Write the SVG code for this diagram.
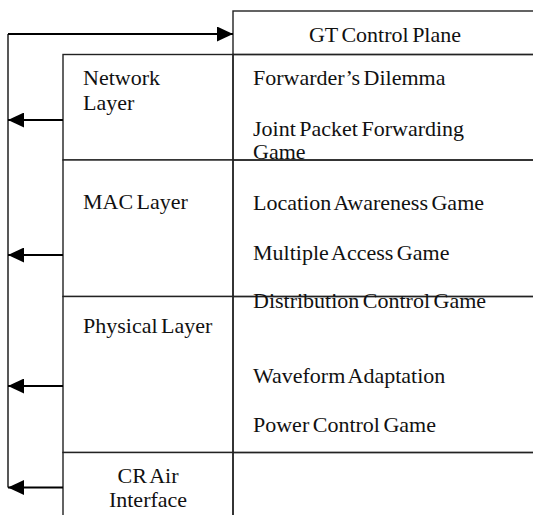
<svg xmlns="http://www.w3.org/2000/svg" width="533" height="515" viewBox="0 0 533 515">
<style>
.box{fill:#fff;stroke:#222;stroke-width:1.4}
.open{fill:none}
.t{font-family:"Liberation Serif","Times New Roman",serif;font-size:22px;word-spacing:-2px;fill:#111}
.c{text-anchor:middle}
.conn{fill:none;stroke:#000;stroke-width:2}
.wire{fill:none;stroke:#111;stroke-width:1.4}
</style>
<defs>
<marker id="ah" viewBox="0 0 16 15" refX="16" refY="7.5" markerWidth="16" markerHeight="15" markerUnits="userSpaceOnUse" orient="auto">
<path d="M0,0 L16,7.5 L0,15 Z" fill="#000"/>
</marker>
</defs>
<g id="gt-control-plane">
<rect class="box" x="233" y="11" width="320" height="43.5"/>
<text class="t c" x="385" y="42">GT Control Plane</text>
</g>
<g id="network-layer">
<rect class="box" x="63" y="54.5" width="170" height="105.5"/>
<text class="t" x="83" y="85">Network</text>
<text class="t" x="83" y="110">Layer</text>
</g>
<g id="network-games">
<rect class="box open" x="233" y="54.5" width="320" height="105.5"/>
<text class="t" x="253" y="85">Forwarder’s Dilemma</text>
<text class="t" x="253" y="136">Joint Packet Forwarding</text>
<text class="t" x="253" y="159">Game</text>
</g>
<g id="mac-layer">
<rect class="box" x="63" y="160" width="170" height="136.5"/>
<text class="t" x="83" y="209">MAC Layer</text>
</g>
<g id="mac-games">
<rect class="box open" x="233" y="160" width="320" height="136.5"/>
<text class="t" x="253" y="210">Location Awareness Game</text>
<text class="t" x="253" y="260">Multiple Access Game</text>
</g>
<g id="physical-layer">
<rect class="box" x="63" y="296.5" width="170" height="156"/>
<text class="t" x="83" y="333">Physical Layer</text>
</g>
<g id="physical-games">
<rect class="box open" x="233" y="296.5" width="320" height="156"/>
<text class="t" x="253" y="308">Distribution Control Game</text>
<text class="t" x="253" y="383">Waveform Adaptation</text>
<text class="t" x="253" y="432">Power Control Game</text>
</g>
<g id="cr-air-interface">
<rect class="box" x="63" y="452.5" width="170" height="80"/>
<text class="t c" x="148" y="483">CR Air</text>
<text class="t c" x="148" y="507">Interface</text>
</g>
<g id="cr-empty">
<rect class="box open" x="233" y="452.5" width="320" height="80"/>
</g>
<g id="connectors">
<path class="wire" d="M8,487.5 V34"/>
<path class="conn" d="M8,34 H233" marker-end="url(#ah)"/>
<path class="conn" d="M63,120 H8" marker-end="url(#ah)"/>
<path class="conn" d="M63,255 H8" marker-end="url(#ah)"/>
<path class="conn" d="M63,386 H8" marker-end="url(#ah)"/>
<path class="conn" d="M63,487.5 H8" marker-end="url(#ah)"/>
</g>
</svg>
